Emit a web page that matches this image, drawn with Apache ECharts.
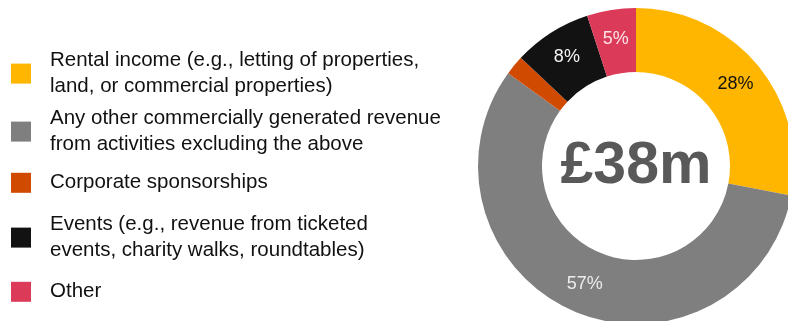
<!DOCTYPE html>
<html>
<head>
<meta charset="utf-8">
<style>
  html, body { margin: 0; padding: 0; background: #ffffff; }
  #chart { width: 788px; height: 321px; }
</style>
<script src="https://cdn.jsdelivr.net/npm/echarts@6/dist/echarts.min.js"></script>
</head>
<body>
<div id="chart"></div>
<script>
// Revenue sources (share of total, %)
const categories = [
  'Rental income (e.g., letting of properties,\nland, or commercial properties)',
  'Any other commercially generated revenue\nfrom activities excluding the above',
  'Corporate sponsorships',
  'Events (e.g., revenue from ticketed\nevents, charity walks, roundtables)',
  'Other'
];
const shares = [28, 57, 2, 8, 5];
const showLabel = [true, true, false, true, true];
const totalLabel = '£38m';

// Styling
const colors = ['#FFB600', '#7F7F7F', '#D04A02', '#121212', '#DB3A59'];
const labelColors = ['#111111', '#ececec', '#ffffff', '#f4f4f4', '#fbe3e8'];
const legendTops = [48, 106, 170, 212, 279];
const FONT = '"Liberation Sans", Arial, sans-serif';

const chart = echarts.init(document.getElementById('chart'), null, { renderer: 'canvas' });

// One legend block per category so each entry sits at its own height
const legends = categories.map((name, i) => ({
  data: [name],
  orient: 'vertical',
  left: 11,
  top: legendTops[i],
  padding: 0,
  itemWidth: 20,
  itemHeight: 20,
  icon: 'rect',
  selectedMode: false,
  textStyle: {
    fontFamily: FONT,
    fontSize: 20.5,
    lineHeight: 25.6,
    color: '#111111',
    padding: [0, 0, 0, 14]
  }
}));

chart.setOption({
  animation: false,
  color: colors,
  legend: legends,
  graphic: [{
    type: 'text',
    x: 636,
    y: 167,
    style: {
      text: totalLabel,
      fontFamily: FONT,
      fontWeight: 'bold',
      fontSize: 59,
      fill: '#595959',
      align: 'center',
      verticalAlign: 'middle'
    }
  }],
  series: [{
    type: 'pie',
    center: [636, 166],
    radius: [94, 158],
    startAngle: 90,
    clockwise: true,
    avoidLabelOverlap: false,
    labelLine: { show: false },
    emphasis: { disabled: true },
    itemStyle: { borderWidth: 0 },
    data: categories.map((name, i) => ({
      name: name,
      value: shares[i],
      label: {
        show: showLabel[i],
        position: 'inside',
        formatter: '{c}%',
        fontFamily: FONT,
        fontSize: 18,
        color: labelColors[i]
      }
    }))
  }]
});
</script>
</body>
</html>
